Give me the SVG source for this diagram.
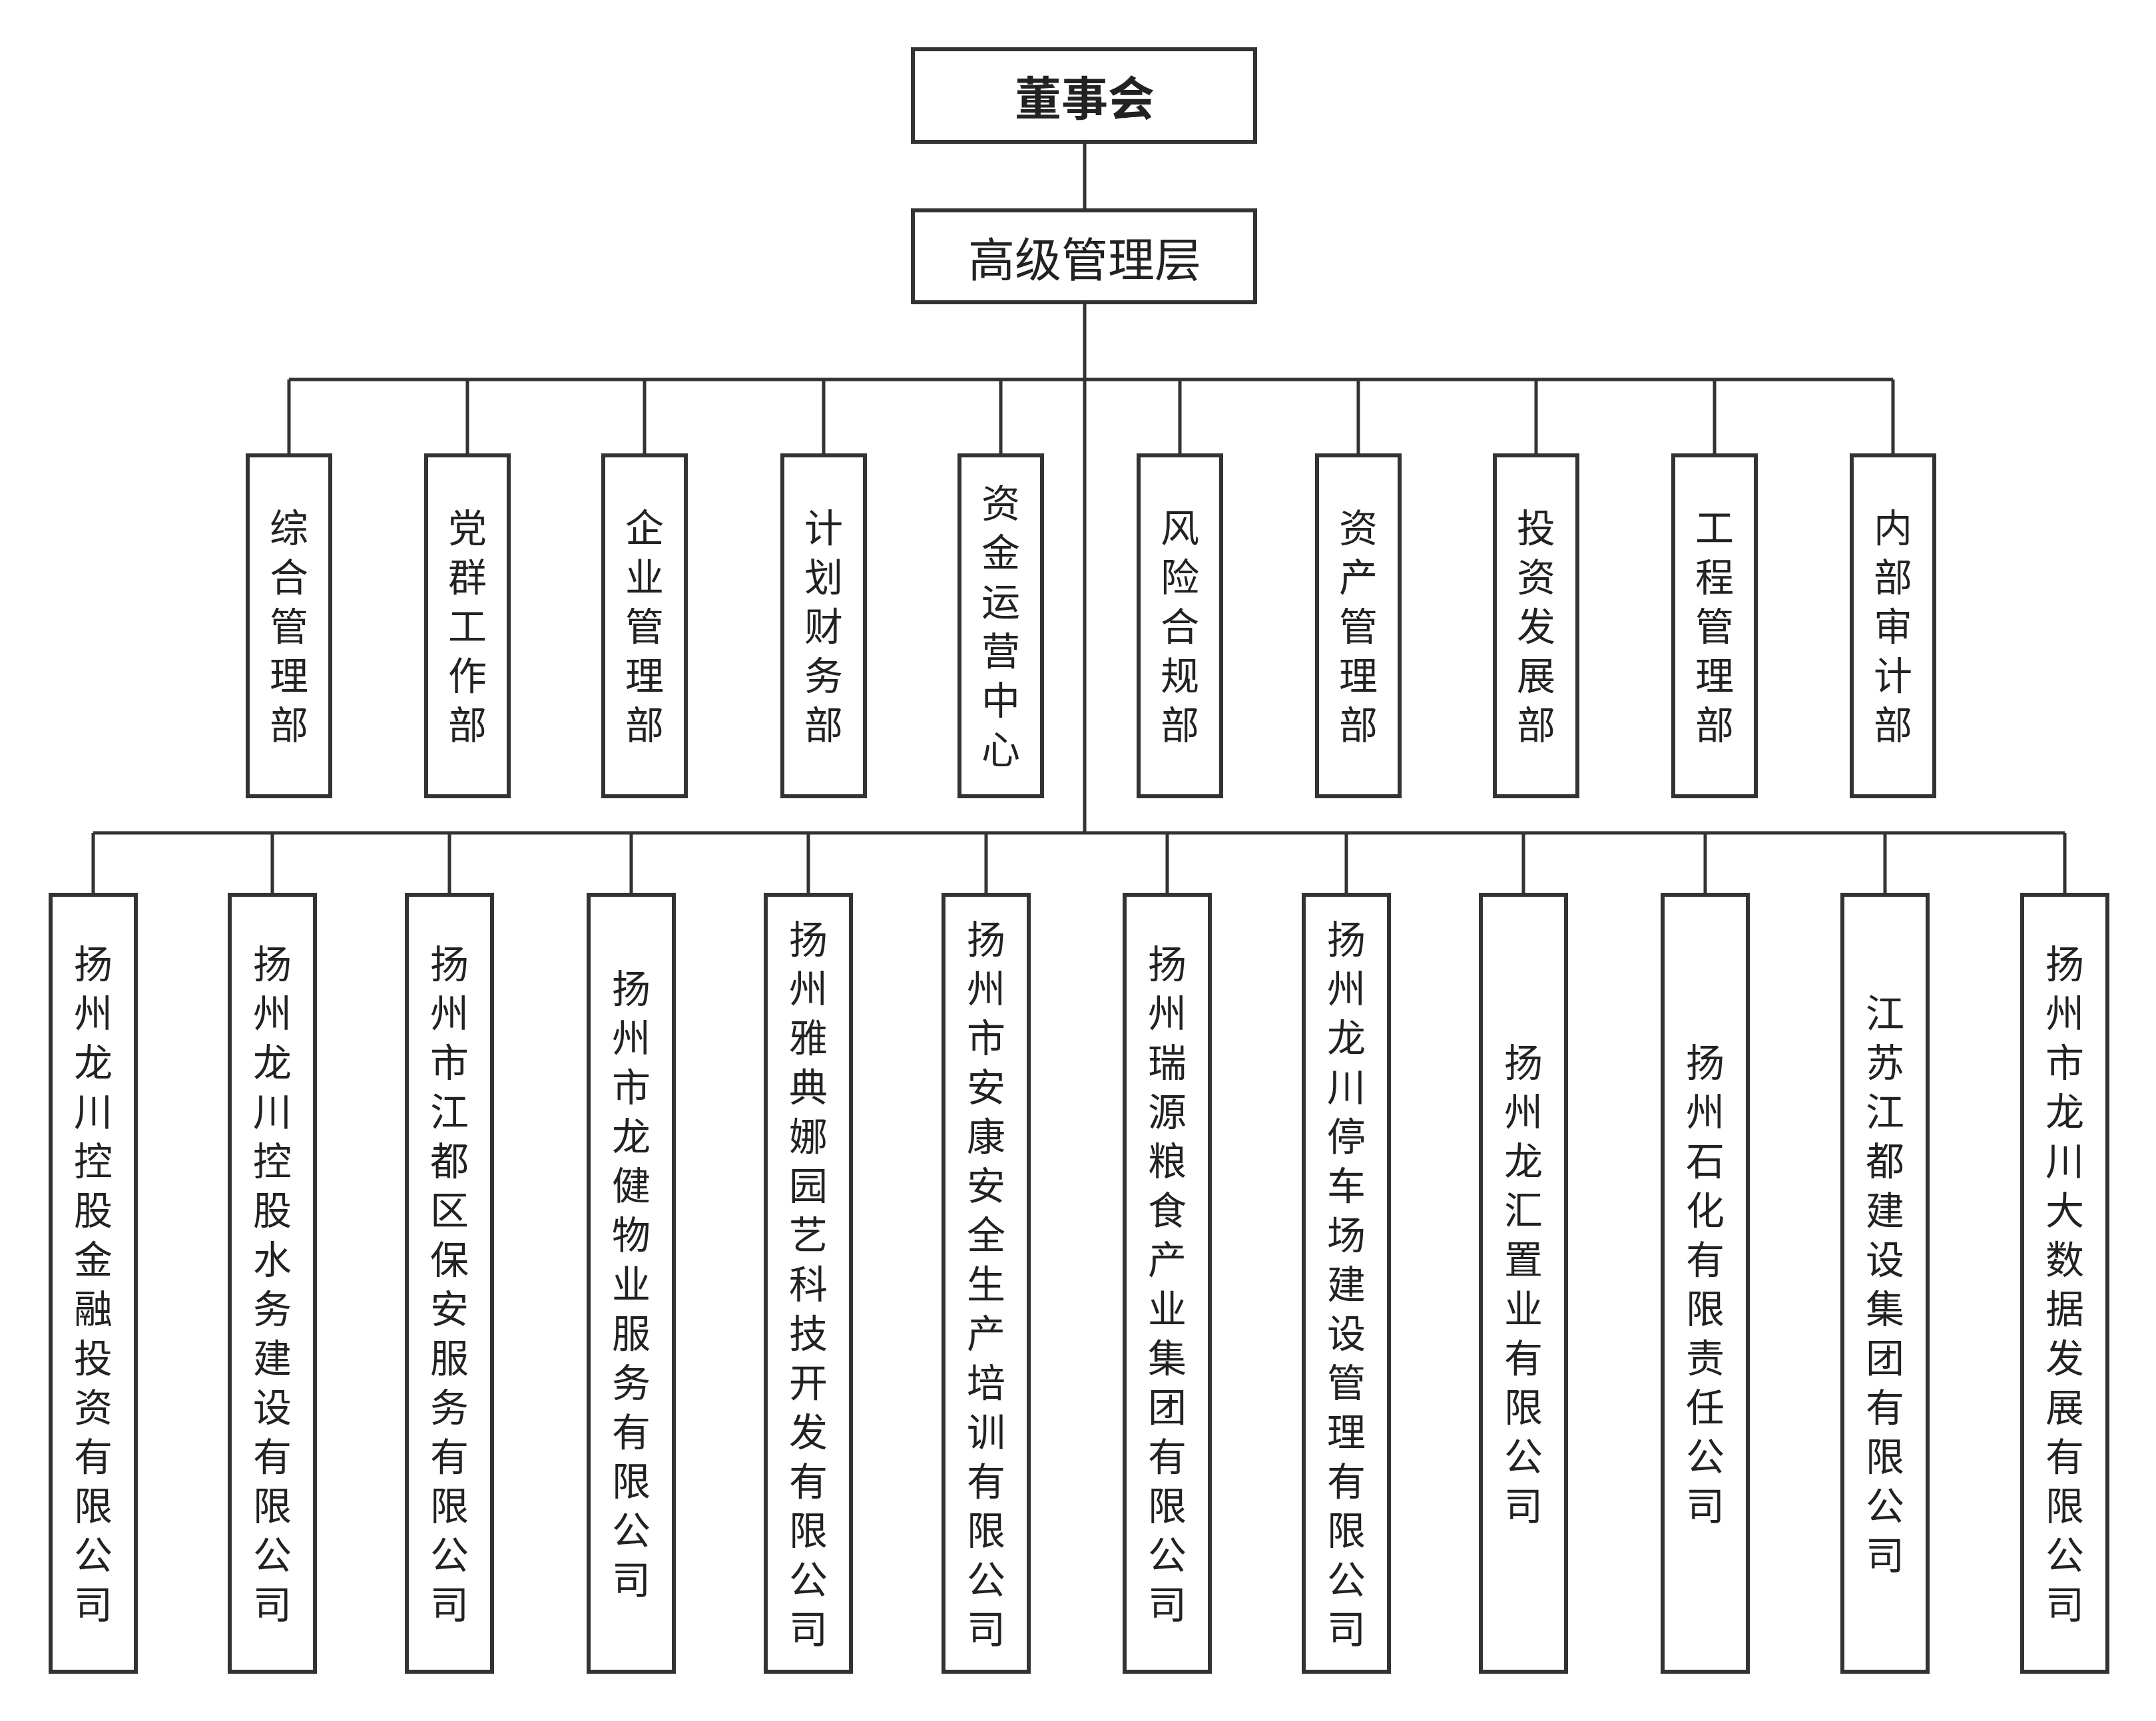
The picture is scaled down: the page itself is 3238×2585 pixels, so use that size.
<svg xmlns="http://www.w3.org/2000/svg" width="3238" height="2585" viewBox="0 0 3238 2585">
<style>
.b{fill:#fff;stroke:#333;stroke-width:6}
.c{fill:none;stroke:#333;stroke-width:5}
text{font-family:"Noto Sans CJK SC","Noto Sans",sans-serif;fill:#222;text-anchor:middle}
.v{font-size:58px;writing-mode:vertical-rl;text-orientation:upright;letter-spacing:16px}
.t{font-size:70px;dominant-baseline:central}
</style>
<rect width="3238" height="2585" fill="#fff"/>
<g id="connectors" class="c">
<path d="M1629 213V316M1629 454V1251M434 570H2843M140 1251H3101"/>
<path d="M434 570V684M702 570V684M968 570V684M1237 570V684M1503 570V684M1772 570V684M2040 570V684M2307 570V684M2575 570V684M2843 570V684"/>
<path d="M140 1251V1344M409 1251V1344M675 1251V1344M948 1251V1344M1214 1251V1344M1481 1251V1344M1753 1251V1344M2022 1251V1344M2288 1251V1344M2561 1251V1344M2831 1251V1344M3101 1251V1344"/>
</g>
<g id="board"><rect class="b" x="1371" y="74" width="514" height="139"/><text class="t" x="1629" y="143" font-weight="bold">董事会</text></g>
<g id="mgmt"><rect class="b" x="1371" y="316" width="514" height="138"/><text class="t" x="1629" y="385">高级管理层</text></g>
<g id="d1"><rect class="b" x="372" y="684" width="124" height="512"/><text class="v" x="434" y="948">综合管理部</text></g>
<g id="d2"><rect class="b" x="640" y="684" width="124" height="512"/><text class="v" x="702" y="948">党群工作部</text></g>
<g id="d3"><rect class="b" x="906" y="684" width="124" height="512"/><text class="v" x="968" y="948">企业管理部</text></g>
<g id="d4"><rect class="b" x="1175" y="684" width="124" height="512"/><text class="v" x="1237" y="948">计划财务部</text></g>
<g id="d5"><rect class="b" x="1441" y="684" width="124" height="512"/><text class="v" x="1503" y="948">资金运营中心</text></g>
<g id="d6"><rect class="b" x="1710" y="684" width="124" height="512"/><text class="v" x="1772" y="948">风险合规部</text></g>
<g id="d7"><rect class="b" x="1978" y="684" width="124" height="512"/><text class="v" x="2040" y="948">资产管理部</text></g>
<g id="d8"><rect class="b" x="2245" y="684" width="124" height="512"/><text class="v" x="2307" y="948">投资发展部</text></g>
<g id="d9"><rect class="b" x="2513" y="684" width="124" height="512"/><text class="v" x="2575" y="948">工程管理部</text></g>
<g id="d10"><rect class="b" x="2781" y="684" width="124" height="512"/><text class="v" x="2843" y="948">内部审计部</text></g>
<g id="c1"><rect class="b" x="76" y="1344" width="128" height="1167"/><text class="v" x="140" y="1936">扬州龙川控股金融投资有限公司</text></g>
<g id="c2"><rect class="b" x="345" y="1344" width="128" height="1167"/><text class="v" x="409" y="1936">扬州龙川控股水务建设有限公司</text></g>
<g id="c3"><rect class="b" x="611" y="1344" width="128" height="1167"/><text class="v" x="675" y="1936">扬州市江都区保安服务有限公司</text></g>
<g id="c4"><rect class="b" x="884" y="1344" width="128" height="1167"/><text class="v" x="948" y="1936">扬州市龙健物业服务有限公司</text></g>
<g id="c5"><rect class="b" x="1150" y="1344" width="128" height="1167"/><text class="v" x="1214" y="1936">扬州雅典娜园艺科技开发有限公司</text></g>
<g id="c6"><rect class="b" x="1417" y="1344" width="128" height="1167"/><text class="v" x="1481" y="1936">扬州市安康安全生产培训有限公司</text></g>
<g id="c7"><rect class="b" x="1689" y="1344" width="128" height="1167"/><text class="v" x="1753" y="1936">扬州瑞源粮食产业集团有限公司</text></g>
<g id="c8"><rect class="b" x="1958" y="1344" width="128" height="1167"/><text class="v" x="2022" y="1936">扬州龙川停车场建设管理有限公司</text></g>
<g id="c9"><rect class="b" x="2224" y="1344" width="128" height="1167"/><text class="v" x="2288" y="1936">扬州龙汇置业有限公司</text></g>
<g id="c10"><rect class="b" x="2497" y="1344" width="128" height="1167"/><text class="v" x="2561" y="1936">扬州石化有限责任公司</text></g>
<g id="c11"><rect class="b" x="2767" y="1344" width="128" height="1167"/><text class="v" x="2831" y="1936">江苏江都建设集团有限公司</text></g>
<g id="c12"><rect class="b" x="3037" y="1344" width="128" height="1167"/><text class="v" x="3101" y="1936">扬州市龙川大数据发展有限公司</text></g>
</svg>
